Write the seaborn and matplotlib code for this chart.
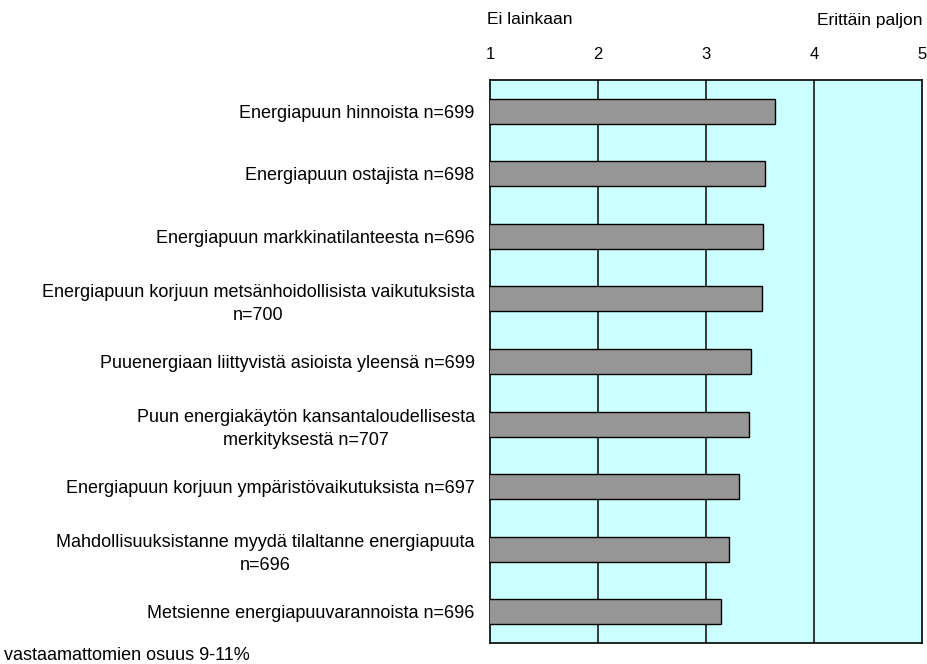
import matplotlib
matplotlib.use("Agg")
import matplotlib.pyplot as plt
import seaborn as sns
import pandas as pd

categories = [
    "Energiapuun hinnoista n=699",
    "Energiapuun ostajista n=698",
    "Energiapuun markkinatilanteesta n=696",
    "Energiapuun korjuun metsänhoidollisista vaikutuksista\nn=700",
    "Puuenergiaan liittyvistä asioista yleensä n=699",
    "Puun energiakäytön kansantaloudellisesta\nmerkityksestä n=707",
    "Energiapuun korjuun ympäristövaikutuksista n=697",
    "Mahdollisuuksistanne myydä tilaltanne energiapuuta\nn=696",
    "Metsienne energiapuuvarannoista n=696",
]
values = [3.64, 3.55, 3.53, 3.52, 3.42, 3.40, 3.31, 3.21, 3.14]
tick_values = [1, 2, 3, 4, 5]
scale_low = "Ei lainkaan"
scale_high = "Erittäin paljon"
footnote = "vastaamattomien osuus 9-11%"

df = pd.DataFrame({"kategoria": categories, "arvo": values})

sns.set_style("white")
plt.rcParams["font.family"] = ["Liberation Sans", "DejaVu Sans"]
plt.rcParams["font.size"] = 12
plt.rcParams["text.color"] = "black"

fig = plt.figure(figsize=(9.28, 6.64), dpi=100)
ax = fig.add_axes([490 / 928, 1 - 643 / 664, 432 / 928, 563 / 664])
ax.set_facecolor("#CCFFFF")

sns.barplot(data=df, x="arvo", y="kategoria", orient="h", color="#969696",
            saturation=1, width=0.4, edgecolor="black", linewidth=1.0, ax=ax,
            zorder=3)

ax.set_xlim(1, 5)
ax.set_xticks(tick_values)
ax.xaxis.tick_top()
ax.tick_params(axis="x", length=0, pad=13, labelsize=12, colors="black")
ax.tick_params(axis="y", length=0, pad=11, labelsize=13, colors="black")
for lbl in ax.get_yticklabels():
    lbl.set_multialignment("center")
    lbl.set_linespacing(1.45)
ax.set_xlabel("")
ax.set_ylabel("")
for x in tick_values[1:-1]:
    ax.axvline(x, color="#1a1a1a", linewidth=1.2, zorder=1)
for sp in ax.spines.values():
    sp.set_visible(True)
    sp.set_color("black")
    sp.set_linewidth(1.2)

fig.text(487 / 928, 1 - 20 / 664, scale_low, ha="left", va="center", fontsize=12.5)
fig.text(923 / 928, 1 - 20 / 664, scale_high, ha="right", va="center", fontsize=12.5)
fig.text(4 / 928, 1 - 656 / 664, footnote, ha="left", va="center", fontsize=13)

fig.savefig("out.png", dpi=100)
